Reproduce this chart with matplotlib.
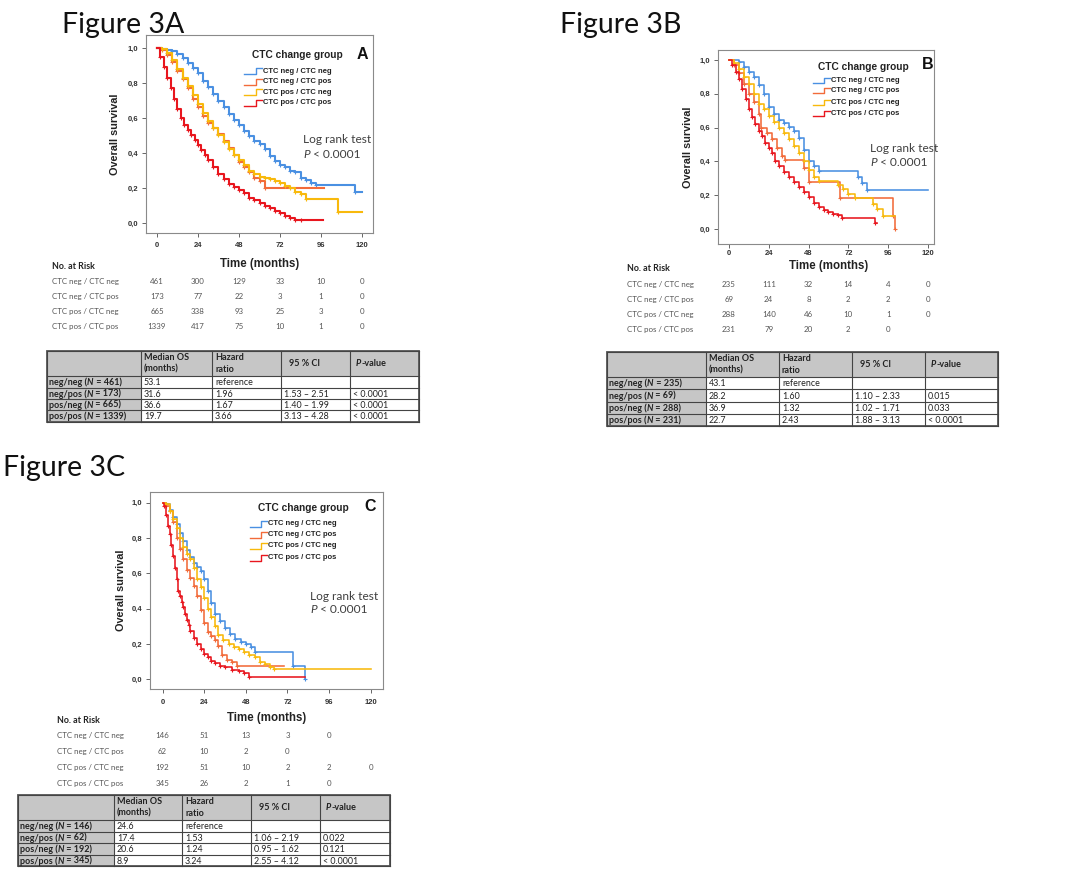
import matplotlib
matplotlib.use('Agg')
import matplotlib.pyplot as plt
from matplotlib.transforms import blended_transform_factory as btf
from matplotlib.patches import Rectangle

# ---------------- data ----------------
groups = ['CTC neg / CTC neg', 'CTC neg / CTC pos', 'CTC pos / CTC neg', 'CTC pos / CTC pos']
colors = ['#4a90e2', '#f26b3a', '#f8b90c', '#e8161e']
x_ticks = [0, 24, 48, 72, 96, 120]
y_ticks = [0.0, 0.2, 0.4, 0.6, 0.8, 1.0]
y_tick_labels = ['0,0', '0,2', '0,4', '0,6', '0,8', '1,0']

# Panel A curves (time in months, survival)
A_negneg_t = [0, 3, 6, 9, 12, 15, 18, 21, 24, 27, 30, 33, 36, 39, 42, 45, 48, 51, 54, 57, 60, 63, 66, 69, 72, 75, 78, 81, 84, 87, 90, 93, 116, 120]
A_negneg_s = [1.0, 0.995, 0.99, 0.98, 0.965, 0.945, 0.915, 0.885, 0.855, 0.81, 0.775, 0.735, 0.695, 0.665, 0.625, 0.59, 0.56, 0.525, 0.495, 0.47, 0.45, 0.42, 0.385, 0.355, 0.33, 0.32, 0.30, 0.29, 0.26, 0.245, 0.23, 0.22, 0.18, 0.18]
A_negpos_t = [0, 3, 6, 9, 12, 15, 18, 21, 24, 27, 30, 33, 36, 39, 42, 45, 48, 51, 54, 57, 60, 63, 98]
A_negpos_s = [1.0, 0.99, 0.96, 0.92, 0.87, 0.82, 0.77, 0.71, 0.66, 0.61, 0.57, 0.54, 0.51, 0.47, 0.43, 0.39, 0.35, 0.32, 0.29, 0.26, 0.24, 0.20, 0.20]
A_posneg_t = [0, 3, 6, 9, 12, 15, 18, 21, 24, 27, 30, 33, 36, 39, 42, 45, 48, 51, 54, 57, 60, 63, 66, 69, 72, 75, 78, 81, 84, 87, 106, 120]
A_posneg_s = [1.0, 0.995, 0.97, 0.93, 0.88, 0.83, 0.78, 0.73, 0.68, 0.63, 0.58, 0.54, 0.50, 0.46, 0.42, 0.39, 0.36, 0.33, 0.30, 0.28, 0.265, 0.26, 0.25, 0.24, 0.23, 0.21, 0.20, 0.18, 0.165, 0.135, 0.065, 0.065]
A_pospos_t = [0, 2, 4, 6, 8, 10, 12, 14, 16, 18, 20, 22, 24, 26, 28, 30, 33, 36, 39, 42, 45, 48, 51, 54, 57, 60, 63, 66, 69, 72, 75, 78, 81, 84, 97]
A_pospos_s = [1.0, 0.95, 0.89, 0.83, 0.77, 0.71, 0.65, 0.60, 0.56, 0.53, 0.50, 0.475, 0.445, 0.415, 0.39, 0.36, 0.32, 0.28, 0.25, 0.225, 0.205, 0.19, 0.17, 0.145, 0.13, 0.115, 0.10, 0.085, 0.07, 0.055, 0.04, 0.03, 0.02, 0.015, 0.015]

# Panel B curves
B_negneg_t = [0, 6, 9, 12, 15, 18, 21, 24, 27, 30, 33, 36, 39, 42, 45, 48, 51, 54, 78, 80, 83, 120]
B_negneg_s = [1.0, 0.99, 0.96, 0.93, 0.90, 0.85, 0.80, 0.72, 0.68, 0.645, 0.625, 0.605, 0.58, 0.54, 0.47, 0.40, 0.37, 0.345, 0.31, 0.27, 0.232, 0.232]
B_negpos_t = [0, 3, 6, 9, 12, 15, 18, 19.5, 23, 26, 29, 32, 34, 45, 48, 67, 99, 100, 100]
B_negpos_s = [1.0, 0.97, 0.92, 0.86, 0.80, 0.75, 0.68, 0.60, 0.57, 0.53, 0.48, 0.43, 0.41, 0.36, 0.28, 0.183, 0.075, 0.0, 0.0]
B_posneg_t = [0, 3, 6, 9, 12, 15, 18, 21, 24, 27, 30, 33, 36, 39, 42, 45, 48, 51, 54, 66, 69, 72, 76, 87, 89, 93, 100]
B_posneg_s = [1.0, 0.98, 0.945, 0.90, 0.86, 0.80, 0.74, 0.71, 0.67, 0.63, 0.60, 0.57, 0.53, 0.49, 0.45, 0.40, 0.35, 0.31, 0.285, 0.26, 0.235, 0.205, 0.183, 0.15, 0.12, 0.075, 0.075]
B_pospos_t = [0, 2, 4, 6, 8, 10, 12, 14, 16, 18, 20, 22, 24, 26, 28, 30, 33, 36, 39, 42, 45, 48, 51, 54, 57, 60, 63, 66, 68, 88, 89]
B_pospos_s = [1.0, 0.97, 0.93, 0.89, 0.83, 0.77, 0.71, 0.665, 0.62, 0.58, 0.55, 0.51, 0.48, 0.45, 0.40, 0.37, 0.34, 0.31, 0.28, 0.25, 0.22, 0.19, 0.155, 0.13, 0.11, 0.10, 0.09, 0.08, 0.065, 0.035, 0.035]

# Panel C curves
C_negneg_t = [0, 2, 4, 6, 8, 10, 12, 14, 16, 18, 20, 22, 24, 26, 28, 30, 33, 36, 39, 42, 45, 48, 51, 53, 75, 82, 82]
C_negneg_s = [1.0, 0.99, 0.96, 0.92, 0.88, 0.83, 0.78, 0.73, 0.69, 0.66, 0.635, 0.615, 0.57, 0.50, 0.43, 0.37, 0.33, 0.29, 0.255, 0.23, 0.21, 0.20, 0.18, 0.155, 0.075, 0.0, 0.0]
C_negpos_t = [0, 2, 4, 6, 8, 10, 12, 14, 16, 18, 20, 22, 24, 26, 28, 30, 32, 34, 37, 40, 43, 70]
C_negpos_s = [1.0, 0.98, 0.95, 0.89, 0.80, 0.74, 0.68, 0.62, 0.575, 0.53, 0.47, 0.39, 0.32, 0.27, 0.245, 0.22, 0.19, 0.14, 0.11, 0.095, 0.077, 0.077]
C_posneg_t = [0, 2, 4, 6, 8, 10, 12, 14, 16, 18, 20, 22, 24, 26, 28, 30, 32, 35, 38, 41, 44, 47, 50, 53, 56, 59, 62, 64, 120]
C_posneg_s = [1.0, 0.99, 0.955, 0.91, 0.855, 0.80, 0.75, 0.71, 0.68, 0.63, 0.57, 0.525, 0.46, 0.40, 0.35, 0.30, 0.25, 0.22, 0.20, 0.185, 0.17, 0.155, 0.14, 0.125, 0.10, 0.085, 0.07, 0.058, 0.058]
C_pospos_t = [0, 1, 2, 3, 4, 5, 6, 7, 8, 9, 10, 11, 12, 13, 14, 15, 16, 18, 20, 22, 24, 26, 28, 30, 33, 36, 40, 44, 47, 50, 82]
C_pospos_s = [1.0, 0.98, 0.93, 0.87, 0.82, 0.76, 0.70, 0.63, 0.565, 0.50, 0.47, 0.44, 0.41, 0.37, 0.335, 0.305, 0.275, 0.235, 0.20, 0.17, 0.145, 0.125, 0.105, 0.09, 0.078, 0.07, 0.055, 0.045, 0.035, 0.015, 0.015]

# Numbers at risk
A_risk = [[461, 300, 129, 33, 10, 0], [173, 77, 22, 3, 1, 0], [665, 338, 93, 25, 3, 0], [1339, 417, 75, 10, 1, 0]]
B_risk = [[235, 111, 32, 14, 4, 0], [69, 24, 8, 2, 2, 0], [288, 140, 46, 10, 1, 0], [231, 79, 20, 2, 0, None]]
C_risk = [[146, 51, 13, 3, 0, None], [62, 10, 2, 0, None, None], [192, 51, 10, 2, 2, 0], [345, 26, 2, 1, 0, None]]

# Summary tables
row_names = ['neg/neg', 'neg/pos', 'pos/neg', 'pos/pos']
A_n = [461, 173, 665, 1339]
A_median = ['53.1', '31.6', '36.6', '19.7']
A_hr = ['reference', '1.96', '1.67', '3.66']
A_ci = ['', '1.53 \u2013 2.51', '1.40 \u2013 1.99', '3.13 \u2013 4.28']
A_p = ['', '< 0.0001', '< 0.0001', '< 0.0001']
B_n = [235, 69, 288, 231]
B_median = ['43.1', '28.2', '36.9', '22.7']
B_hr = ['reference', '1.60', '1.32', '2.43']
B_ci = ['', '1.10 \u2013 2.33', '1.02 \u2013 1.71', '1.88 \u2013 3.13']
B_p = ['', '0.015', '0.033', '< 0.0001']
C_n = [146, 62, 192, 345]
C_median = ['24.6', '17.4', '20.6', '8.9']
C_hr = ['reference', '1.53', '1.24', '3.24']
C_ci = ['', '1.06 \u2013 2.19', '0.95 \u2013 1.62', '2.55 \u2013 4.12']
C_p = ['', '0.022', '0.121', '< 0.0001']

# ---------------- figure ----------------
W, H = 1080, 872
fig = plt.figure(figsize=(W / 100, H / 100), dpi=100)
fig.patch.set_facecolor('white')
ov = fig.add_axes([0, 0, 1, 1], zorder=0)
ov.set_xlim(0, W)
ov.set_ylim(H, 0)
ov.axis('off')

SANS = ['Liberation Sans', 'DejaVu Sans']
CAL = ['Lato', 'DejaVu Sans']


def rich(axx, x, y, pieces, size, transform, color='#222222', family=CAL, va='center'):
    s, w, st = pieces[0]
    prev = axx.text(x, y, s, transform=transform, fontsize=size, family=family,
                    fontweight=w, fontstyle=st, va=va, ha='left', color=color)
    for s, w, st in pieces[1:]:
        prev = axx.annotate(s, xy=(1, 0), xycoords=prev, va='bottom', ha='left',
                            fontsize=size, family=family, fontweight=w, fontstyle=st, color=color)


def km_panel(box, xlim, ylim, curves, letter, leg, logrank, ylab_x, xpad, lw):
    l, t, r, b = box
    ax = fig.add_axes([l / W, 1 - b / H, (r - l) / W, (b - t) / H], zorder=2)
    ax.set_facecolor('none')
    for (tt, ss), col in zip(curves, colors):
        ax.step(tt, ss, where='post', color=col, lw=lw, zorder=3)
        ax.plot(tt[1:-1], ss[1:-1], '+', color=col, ms=3.5, mew=0.8, zorder=3)
    ax.set_xlim(*xlim)
    ax.set_ylim(*ylim)
    ax.set_xticks(x_ticks)
    ax.set_yticks(y_ticks)
    ax.set_yticklabels(y_tick_labels)
    for sp in ax.spines.values():
        sp.set_color('#8a8a8a')
        sp.set_linewidth(0.8)
    ax.tick_params(axis='both', length=3, width=0.7, color='#666666', labelsize=5.5,
                   labelcolor='#333333')
    ax.tick_params(axis='x', pad=xpad)
    ax.tick_params(axis='y', pad=2.5)
    for lab in ax.get_xticklabels() + ax.get_yticklabels():
        lab.set_fontweight('bold')
        lab.set_family(SANS)
    # legend
    tx, ty, hx0, hx1, rows = leg
    ax.text(tx, ty, 'CTC change group', transform=ax.transAxes, ha='center', va='center',
            fontsize=7.3, fontweight='bold', family=SANS, color='#222222')
    hm = hx0 + 0.65 * (hx1 - hx0)
    d = 0.014
    for g, col, yy in zip(groups, colors, rows):
        ax.plot([hx0, hm, hm, hx1], [yy - d, yy - d, yy + d, yy + d], transform=ax.transAxes,
                color=col, lw=1.0, clip_on=False)
        ax.text(hx1 + 0.004, yy, g, transform=ax.transAxes, ha='left', va='center',
                fontsize=5.5, fontweight='bold', family=SANS, color='#222222')
    ax.text(letter[1], letter[2], letter[0], transform=ax.transAxes, ha='center', va='center',
            fontsize=11.5, fontweight='bold', family=SANS, color='#111111')
    lx, ly1, ly2 = logrank
    ax.text(lx, ly1, 'Log rank test', transform=ax.transAxes, ha='left', va='center',
            fontsize=8.6, family=CAL, color='#404040')
    rich(ax, lx, ly2, [('P', 'normal', 'italic'), (' < 0.0001', 'normal', 'normal')], 8.6,
         ax.transAxes, color='#404040')
    ov.text(ylab_x, (t + b) / 2, 'Overall survival', rotation=90, ha='center', va='center',
            fontsize=7.8, fontweight='bold', family=SANS, color='#222222')
    return ax


def risk_table(ax, risk, lab_x, head_y, rows_y):
    ov.text(lab_x, head_y, 'No. at Risk', ha='left', va='center', fontsize=6.4,
            fontweight='bold', family=CAL, color='#222222')
    bt = btf(ax.transData, ov.transData)
    ov.text(60, head_y - 2, 'Time (months)', transform=bt, ha='center', va='center',
            fontsize=8.3, fontweight='bold', family=SANS, color='#222222')
    for g, vals, yy in zip(groups, risk, rows_y):
        ov.text(lab_x, yy, g, ha='left', va='center', fontsize=5.7, family=CAL, color='#555555')
        for xt, v in zip(x_ticks, vals):
            if v is not None:
                ov.text(xt, yy, str(v), transform=bt, ha='center', va='center',
                        fontsize=5.7, family=CAL, color='#555555')


def summary_table(xe, ye, n, med, hr, ci, pv):
    gray = '#c6c6c6'
    ov.add_patch(Rectangle((xe[0], ye[0]), xe[-1] - xe[0], ye[1] - ye[0], fc=gray, ec='none'))
    ov.add_patch(Rectangle((xe[0], ye[1]), xe[1] - xe[0], ye[-1] - ye[1], fc=gray, ec='none'))
    for yy in ye:
        ov.plot([xe[0], xe[-1]], [yy, yy], color='#444444', lw=0.8)
    for xx in xe:
        ov.plot([xx, xx], [ye[0], ye[-1]], color='#444444', lw=0.8)
    ov.add_patch(Rectangle((xe[0], ye[0]), xe[-1] - xe[0], ye[-1] - ye[0], fc='none',
                           ec='#555555', lw=1.3))
    fs = 6.5
    hy = (ye[0] + ye[1]) / 2
    ov.text(xe[1] + 3, hy, 'Median OS\n(months)', ha='left', va='center', fontsize=fs,
            fontweight='bold', family=CAL, color='#222222', linespacing=1.35)
    ov.text(xe[2] + 3, hy, 'Hazard\nratio', ha='left', va='center', fontsize=fs,
            fontweight='bold', family=CAL, color='#222222', linespacing=1.35)
    ov.text(xe[3] + 8, hy, '95 % CI', ha='left', va='center', fontsize=fs,
            fontweight='bold', family=CAL, color='#222222')
    rich(ov, xe[4] + 6, hy, [('P', 'bold', 'italic'), ('-value', 'bold', 'normal')], fs,
         ov.transData)
    for i in range(4):
        yy = (ye[i + 1] + ye[i + 2]) / 2 + 0.5
        rich(ov, xe[0] + 2, yy, [(row_names[i] + ' (', 'bold', 'normal'), ('N', 'bold', 'italic'),
                                 (' = %d)' % n[i], 'bold', 'normal')], fs, ov.transData)
        for j, v in enumerate([med[i], hr[i], ci[i], pv[i]]):
            ov.text(xe[j + 1] + 3, yy, v, ha='left', va='center', fontsize=6.4,
                    family=CAL, color='#222222')


# Titles
for txt, x, y in [('Figure 3A', 62, 33), ('Figure 3B', 560, 33), ('Figure 3C', 3, 476)]:
    ov.text(x, y, txt, ha='left', va='baseline', fontsize=20.5, family=CAL, color='#111111')

# Panel A
axA = km_panel((146, 35, 373, 233), (-6.4, 126.4), (-0.057, 1.074),
               [(A_negneg_t, A_negneg_s), (A_negpos_t, A_negpos_s), (A_posneg_t, A_posneg_s),
                (A_pospos_t, A_pospos_s)],
               ('A', 0.952, 0.904), (0.665, 0.899, 0.432, 0.511, [0.818, 0.763, 0.712, 0.657]),
               (0.692, 0.47, 0.394), 115, 3.5, 1.5)
risk_table(axA, A_risk, 52, 266, [281, 296, 311, 326])
summary_table([47, 141, 212, 281, 350, 419], [351, 376, 388, 399, 410, 422],
              A_n, A_median, A_hr, A_ci, A_p)

# Panel B
axB = km_panel((718, 50, 934, 244), (-6.6, 123.6), (-0.089, 1.059),
               [(B_negneg_t, B_negneg_s), (B_negpos_t, B_negpos_s), (B_posneg_t, B_posneg_s),
                (B_pospos_t, B_pospos_s)],
               ('B', 0.972, 0.923), (0.671, 0.914, 0.44, 0.519, [0.842, 0.79, 0.73, 0.674]),
               (0.704, 0.49, 0.418), 688, 1.5, 1.15)
risk_table(axB, B_risk, 627, 268, [284, 299, 314, 329])
summary_table([607, 706, 779, 852, 925, 998], [352, 377, 389, 402, 414, 426],
              B_n, B_median, B_hr, B_ci, B_p)

# Panel C
axC = km_panel((150, 492, 383, 689), (-7.3, 127.1), (-0.055, 1.06),
               [(C_negneg_t, C_negneg_s), (C_negpos_t, C_negpos_s), (C_posneg_t, C_posneg_s),
                (C_pospos_t, C_pospos_s)],
               ('C', 0.944, 0.924), (0.657, 0.919, 0.429, 0.502, [0.838, 0.782, 0.726, 0.665]),
               (0.687, 0.472, 0.406), 121, 4.0, 1.15)
risk_table(axC, C_risk, 57, 720, [735, 751, 767, 783])
summary_table([18, 114, 182, 251, 320, 390], [795, 820, 832, 843, 855, 866],
              C_n, C_median, C_hr, C_ci, C_p)

fig.savefig('out.png', dpi=100, facecolor='white')
